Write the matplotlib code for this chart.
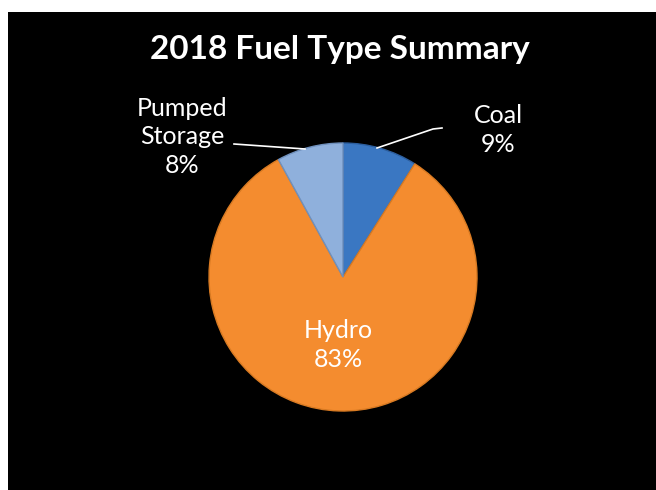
import matplotlib
matplotlib.use('Agg')
from matplotlib import pyplot as plt
from matplotlib.patches import Rectangle

plt.rcParams['font.family'] = ['Lato', 'DejaVu Sans']

# data
fuel_types = ['Coal', 'Hydro', 'Pumped\nStorage']
shares = [9, 83, 8]
slice_colors = ['#3a77c2', '#f48c2f', '#8fb0dc']
edge_colors = ['#2c5e9e', '#d87a22', '#6f90bd']

W, H = 656, 490
fig = plt.figure(figsize=(W / 100, H / 100), dpi=100)
fig.patch.set_facecolor('white')

# work in pixel coordinates, y measured from the top of the image
ax = fig.add_axes([0, 0, 1, 1])

def py(y):
    return H - y

# black chart area
ax.add_patch(Rectangle((8, 0), W - 8, H - 12, facecolor='black', edgecolor='none', zorder=0))

cx, cy, r = 343, 277, 134
wedges, _ = ax.pie(shares, colors=slice_colors, startangle=90, counterclock=False,
                   center=(cx, py(cy)), radius=r, frame=True,
                   wedgeprops=dict(linewidth=1.0))
for w, ec in zip(wedges, edge_colors):
    w.set_edgecolor(ec)
    w.set_zorder(2)
ax.set_xlim(0, W)
ax.set_ylim(0, H)
ax.set_aspect('equal')
ax.axis('off')

ax.text(340, py(50), '2018 Fuel Type Summary', color='white', fontsize=24,
        fontweight='bold', ha='center', va='center')

lbl = dict(color='white', fontsize=18, ha='center', va='center', linespacing=1.3)
ax.text(498, py(130), f'{fuel_types[0]}\n{shares[0]}%', **lbl)
ax.text(338, py(345), f'{fuel_types[1]}\n{shares[1]}%', **lbl)
ax.text(182, py(137), f'{fuel_types[2]}\n{shares[2]}%', **lbl)

# leader lines
ax.plot([377, 433, 442], [py(148), py(129), py(128)], color='white', lw=1.2, zorder=3)
ax.plot([234, 305], [py(144), py(149)], color='white', lw=1.2, zorder=3)

fig.savefig('out.png', dpi=100, facecolor=fig.get_facecolor())
